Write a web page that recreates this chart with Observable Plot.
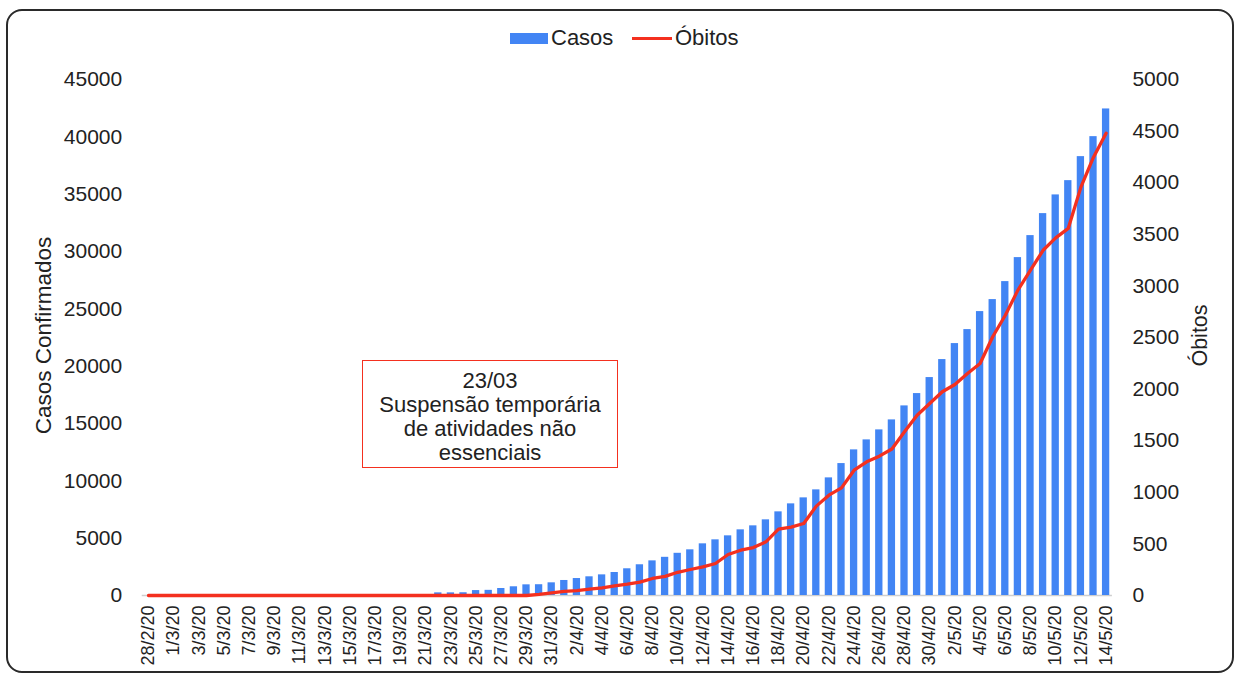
<!DOCTYPE html>
<html>
<head>
<meta charset="utf-8">
<script src="https://cdn.jsdelivr.net/npm/d3@7"></script>
<script src="https://cdn.jsdelivr.net/npm/@observablehq/plot@0.6"></script>
<style>
  html, body { margin: 0; padding: 0; background: #fff; }
  body { width: 1239px; height: 675px; position: relative; overflow: hidden;
         font-family: "Liberation Sans", Arial, Helvetica, sans-serif; color: #222; }
  #frame { position: absolute; left: 6px; top: 9px; width: 1224px; height: 660px;
           border: 2px solid #2a2a2a; border-radius: 16px; pointer-events: none; }
  #legend { position: absolute; left: 0; top: 0; width: 1239px; height: 60px; }
  #legend .sw-bar { position: absolute; left: 510px; top: 33px; width: 38px; height: 11px; background: #4285f4; }
  #legend .sw-line { position: absolute; left: 632px; top: 37px; width: 40px; height: 3px; background: #f4301f; }
  #legend .lab { position: absolute; top: 26px; font-size: 22px; line-height: 24px; color: #222; }
  #chart { position: absolute; left: 0; top: 60px; }
  #note { position: absolute; left: 362px; top: 360px; width: 254px; height: 106px;
          border: 1.5px solid #f4301f; text-align: center; font-size: 22px; line-height: 24px;
          padding-top: 0; box-sizing: content-box; color: #222; }
  #note div:first-child { margin-top: 8px; }
</style>
</head>
<body>
<div id="legend">
  <div class="sw-bar"></div><div class="lab" style="left:551px">Casos</div>
  <div class="sw-line"></div><div class="lab" style="left:675px">Óbitos</div>
</div>
<div id="chart"></div>
<div id="note"><div>23/03</div><div>Suspensão temporária</div><div>de atividades não</div><div>essenciais</div></div>
<div id="frame"></div>
<script>
// Categories: dates (28/2/20 .. 14/5/20)
const datas = [
  "28/2/20","29/2/20",
  "1/3/20","2/3/20","3/3/20","4/3/20","5/3/20","6/3/20","7/3/20","8/3/20","9/3/20","10/3/20",
  "11/3/20","12/3/20","13/3/20","14/3/20","15/3/20","16/3/20","17/3/20","18/3/20","19/3/20","20/3/20",
  "21/3/20","22/3/20","23/3/20","24/3/20","25/3/20","26/3/20","27/3/20","28/3/20","29/3/20","30/3/20","31/3/20",
  "1/4/20","2/4/20","3/4/20","4/4/20","5/4/20","6/4/20","7/4/20","8/4/20","9/4/20","10/4/20",
  "11/4/20","12/4/20","13/4/20","14/4/20","15/4/20","16/4/20","17/4/20","18/4/20","19/4/20","20/4/20",
  "21/4/20","22/4/20","23/4/20","24/4/20","25/4/20","26/4/20","27/4/20","28/4/20","29/4/20","30/4/20",
  "1/5/20","2/5/20","3/5/20","4/5/20","5/5/20","6/5/20","7/5/20","8/5/20","9/5/20","10/5/20",
  "11/5/20","12/5/20","13/5/20","14/5/20"
];

// Casos confirmados (left axis)
const casos = [
  0,0,
  0,0,0,0,0,0,0,0,0,0,
  0,0,0,0,0,0,0,0,0,0,
  0,230,230,240,430,450,610,760,930,940,1105,
  1310,1480,1630,1800,2005,2330,2680,3020,3330,3680,
  3983,4506,4854,5203,5726,6075,6598,7295,7992,8515,
  9212,10258,11505,12700,13571,14443,15314,16535,17610,19006,
  20575,21970,23190,24760,25806,27375,29468,31386,33304,34935,
  36180,38274,40017,42432
];

// Óbitos (right axis)
const obitos = [
  0,0,
  0,0,0,0,0,0,0,0,0,0,
  0,0,0,0,0,0,0,0,0,0,
  0,0,0,0,0,0,0,0,0,10,26,
  39,48,61,74,94,110,129,165,185,225,
  252,278,310,397,439,465,520,643,662,698,
  866,972,1043,1214,1295,1350,1420,1586,1747,1860,
  1974,2045,2151,2248,2507,2716,2959,3152,3345,3465,
  3558,3957,4247,4480
];

// Axis tick values
const ticksCasos = [0,5000,10000,15000,20000,25000,30000,35000,40000,45000];
const ticksObitos = [0,500,1000,1500,2000,2500,3000,3500,4000,4500,5000];
const ratio = 45000 / 5000; // right axis 0..5000 maps to left 0..45000

const rows = datas.map((d, i) => ({data: d, casos: casos[i], obitos: obitos[i]}));
const xTicks = datas.filter((d, i) => i % 2 === 0);

const W = 1239, H = 612;
const left = 141.7, right = 1111.9;

const chart = Plot.plot({
  width: W,
  height: H,
  marginLeft: left,
  marginRight: W - right,
  marginTop: 19,
  marginBottom: 77,
  style: {fontFamily: "'Liberation Sans', Arial, Helvetica, sans-serif", fontSize: "21px", color: "#222", background: "transparent"},
  x: {type: "band", domain: datas, paddingInner: 0.42, paddingOuter: 0.21, label: null},
  y: {domain: [0, 45000], label: null},
  marks: [
    Plot.ruleY([0], {stroke: "#cfcfcf", strokeWidth: 1.5}),
    Plot.barY(rows, {x: "data", y: "casos", fill: "#4285f4"}),
    Plot.lineY(rows, {x: "data", y: d => d.obitos * ratio, stroke: "#f4301f", strokeWidth: 3.3, curve: "linear", strokeLinejoin: "round"}),
    Plot.axisY({anchor: "left", ticks: ticksCasos, tickSize: 0, tickPadding: 20, tickFormat: d => String(d), fontSize: 21, label: null}),
    Plot.axisY({anchor: "right", ticks: ticksObitos.map(v => v * ratio), tickSize: 0, tickPadding: 20, tickFormat: v => String(Math.round(v / ratio)), fontSize: 21, label: null}),
    Plot.axisX({ticks: xTicks, tickRotate: -90, tickSize: 0, tickPadding: 10, fontSize: 18, label: null}),
    Plot.text(["Casos Confirmados"], {frameAnchor: "left", rotate: -90, dx: -(left - 43), dy: -2, textAnchor: "middle", fontSize: 22.5, fill: "#222"}),
    Plot.text(["Óbitos"], {frameAnchor: "right", rotate: -90, dx: 1200 - right, dy: -2, textAnchor: "middle", fontSize: 21.5, fill: "#222"})
  ]
});
document.getElementById("chart").appendChild(chart);
</script>
</body>
</html>
